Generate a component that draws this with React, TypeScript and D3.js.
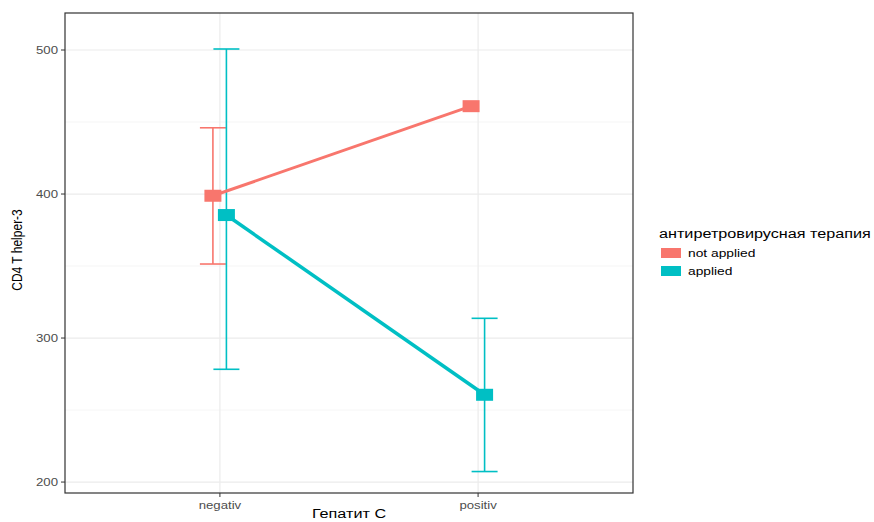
import React from "react";
import * as d3 from "d3";

const categories = ["negativ", "positiv"];
const groups = ["not applied", "applied"];
const colors = ["#F8766D", "#00BFC4"];
const meanNotApplied = [398.8, 461];
const lowNotApplied = [351.4, 461];
const highNotApplied = [446, 461];
const meanApplied = [385.4, 260.6];
const lowApplied = [278.3, 207.3];
const highApplied = [500.7, 313.7];
const yTicks = [200, 300, 400, 500];
const yMinor = [250, 350, 450];

const W = 874, H = 522;
const L = 65, R = 633, T = 13, B = 493;
const font = "Liberation Sans, Arial, sans-serif";
const SX = 1.2;

function SText(props: { x: number; y: number; size: number; fill: string; anchor?: string; dy?: string; children: React.ReactNode }) {
  return (
    <text
      transform={`translate(${props.x},${props.y}) scale(${SX},1)`}
      dy={props.dy}
      textAnchor={props.anchor || "start"}
      fontFamily={font}
      fontSize={props.size}
      fill={props.fill}
    >
      {props.children}
    </text>
  );
}

export default function App() {
  const x = d3.scalePoint<string>().domain(categories).range([L, R]).padding(0.6);
  const y = d3.scaleLinear().domain([192.4, 525.7]).range([B, T]);
  const dodge = [-7, 6.5];
  const series = [
    { mean: meanNotApplied, low: lowNotApplied, high: highNotApplied, hasErr: [true, false], lw: 3 },
    { mean: meanApplied, low: lowApplied, high: highApplied, hasErr: [true, true], lw: 3.5 },
  ];
  const line = d3.line<[number, number]>().x(d => d[0]).y(d => d[1]);
  return (
    <svg width={W} height={H} style={{ position: "absolute", left: 0, top: 0, background: "#fff" }}>
      <rect x={0} y={0} width={W} height={H} fill="#fff" />
      {yMinor.map(v => (
        <line key={"m" + v} x1={L} x2={R} y1={y(v)} y2={y(v)} stroke="#F2F2F2" strokeWidth={0.8} />
      ))}
      {yTicks.map(v => (
        <line key={"g" + v} x1={L} x2={R} y1={y(v)} y2={y(v)} stroke="#EBEBEB" strokeWidth={1.2} />
      ))}
      {categories.map(c => (
        <line key={"v" + c} x1={x(c)!} x2={x(c)!} y1={T} y2={B} stroke="#EBEBEB" strokeWidth={1.2} />
      ))}
      {series.map((s, gi) => (
        <g key={gi}>
          {categories.map((c, ci) =>
            s.hasErr[ci] ? (
              <g key={c} stroke={colors[gi]} strokeWidth={1.6} fill="none">
                <line x1={x(c)! + dodge[gi]} x2={x(c)! + dodge[gi]} y1={y(s.low[ci])} y2={y(s.high[ci])} />
                <line x1={x(c)! + dodge[gi] - 13} x2={x(c)! + dodge[gi] + 13} y1={y(s.low[ci])} y2={y(s.low[ci])} />
                <line x1={x(c)! + dodge[gi] - 13} x2={x(c)! + dodge[gi] + 13} y1={y(s.high[ci])} y2={y(s.high[ci])} />
              </g>
            ) : null
          )}
        </g>
      ))}
      {series.map((s, gi) => (
        <g key={"l" + gi}>
          <path
            d={line(categories.map((c, ci) => [x(c)! + dodge[gi], y(s.mean[ci])]))!}
            stroke={colors[gi]}
            strokeWidth={s.lw}
            fill="none"
          />
          {categories.map((c, ci) => (
            <rect
              key={c}
              x={x(c)! + dodge[gi] - 8.5}
              y={y(s.mean[ci]) - 6}
              width={17}
              height={12}
              fill={colors[gi]}
            />
          ))}
        </g>
      ))}
      <rect x={L} y={T} width={R - L} height={B - T} fill="none" stroke="#333333" strokeWidth={1.2} />
      {yTicks.map(v => (
        <g key={"t" + v}>
          <line x1={L - 4} x2={L} y1={y(v)} y2={y(v)} stroke="#333333" strokeWidth={1} />
          <SText x={L - 7} y={y(v)} dy="0.35em" anchor="end" size={11} fill="#4D4D4D">
            {v}
          </SText>
        </g>
      ))}
      {categories.map(c => (
        <g key={"xt" + c}>
          <line x1={x(c)!} x2={x(c)!} y1={B} y2={B + 4} stroke="#333333" strokeWidth={1} />
          <SText x={x(c)!} y={B + 16} anchor="middle" size={11} fill="#4D4D4D">
            {c}
          </SText>
        </g>
      ))}
      <SText x={(L + R) / 2} y={518} anchor="middle" size={13.5} fill="#000">
        Гепатит С
      </SText>
      <text
        transform={`translate(22,${(T + B) / 2 - 3}) rotate(-90) scale(1,${SX})`}
        textAnchor="middle"
        fontFamily={font}
        fontSize={12}
        fill="#000"
      >
        CD4 T helper-3
      </text>
      <SText x={659} y={238} size={13.5} fill="#000">
        антиретровирусная терапия
      </SText>
      {groups.map((g, i) => (
        <g key={g} transform={`translate(661,${244 + i * 18})`}>
          <rect x={0} y={4} width={20} height={10} fill={colors[i]} />
          <line x1={0} x2={20} y1={9} y2={9} stroke={colors[i]} strokeWidth={3} />
          <SText x={27} y={13} size={11.5} fill="#000">
            {g}
          </SText>
        </g>
      ))}
    </svg>
  );
}
